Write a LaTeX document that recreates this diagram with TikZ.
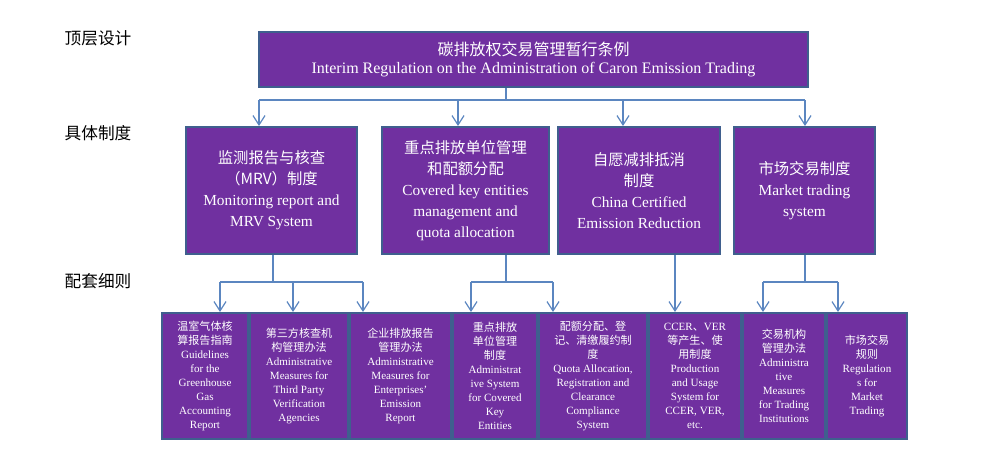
\documentclass[tikz,border=0pt]{standalone}
\usepackage{fontspec}
\setmainfont{Liberation Serif}
\newfontfamily\cjk{Noto Sans CJK SC}
\usetikzlibrary{arrows.meta,positioning}
\definecolor{boxfill}{HTML}{7030A0}
\definecolor{boxline}{HTML}{3F5F8E}
\definecolor{linkcol}{HTML}{5B86C0}
\newcommand{\zh}[1]{{\cjk #1}}

\begin{document}
\begin{tikzpicture}[x=0.75pt,y=-0.75pt]
\tikzstyle{box} = [rectangle, draw=boxline, line width=1.5pt, fill=boxfill, text=white, align=center, inner sep=0pt]
\tikzstyle{topbox} = [box, minimum width=411.75pt, minimum height=41.25pt, font=\fontsize{12}{13.5}\selectfont]
\tikzstyle{midbox} = [box, minimum height=95.25pt, font=\fontsize{11.5}{15.75}\selectfont]
\tikzstyle{subbox} = [box, minimum height=94.5pt, font=\fontsize{8.3}{10.5}\selectfont]
\tikzstyle{tier} = [font=\cjk\fontsize{12.5}{14}\selectfont]
\tikzstyle{link} = [draw=linkcol, line width=0.9pt]
\tikzstyle{arrow} = [link, -{Straight Barb[length=7pt,width=9pt]}]

\useasboundingbox (0,0) rectangle (985,465);

% row labels
\node (lvltop) [tier] at (98,38) {顶层设计};
\node (lvlmid) [tier] at (98,133) {具体制度};
\node (lvlsub) [tier] at (98,281) {配套细则};

% top
\node (top) [topbox] at (533.5,59.5) {\zh{碳排放权交易管理暂行条例}\\Interim Regulation on the Administration of Caron Emission Trading};

% middle row
\node (m1) [midbox, minimum width=128.25pt] at (271.5,190.5) {\zh{监测报告与核查}\\\zh{（MRV）制度}\\Monitoring report and\\MRV System};
\node (m2) [midbox, minimum width=125.25pt, right=17.25pt of m1] {\zh{重点排放单位管理}\\\zh{和配额分配}\\Covered key entities\\management and\\quota allocation};
\node (m3) [midbox, minimum width=121.5pt, right=5.25pt of m2] {\zh{自愿减排抵消}\\\zh{制度}\\China Certified\\Emission Reduction};
\node (m4) [midbox, minimum width=105.75pt, right=9pt of m3] {\zh{市场交易制度}\\Market trading\\system};

% bottom row
\node (b1) [subbox, minimum width=64.5pt, anchor=west] at (161,376) {\zh{温室气体核}\\\zh{算报告指南}\\Guidelines\\for the\\Greenhouse\\Gas\\Accounting\\Report};
\node (b2) [subbox, minimum width=73.5pt, right=0pt of b1] {\zh{第三方核查机}\\\zh{构管理办法}\\Administrative\\Measures for\\Third Party\\Verification\\Agencies};
\node (b3) [subbox, minimum width=75.75pt, right=0pt of b2] {\zh{企业排放报告}\\\zh{管理办法}\\Administrative\\Measures for\\Enterprises’\\Emission\\Report};
\node (b4) [subbox, minimum width=63pt, right=0pt of b3] {\zh{重点排放}\\\zh{单位管理}\\\zh{制度}\\Administrat\\ive System\\for Covered\\Key\\Entities};
\node (b5) [subbox, minimum width=81pt, right=0pt of b4] {\zh{配额分配、登}\\\zh{记、清缴履约制}\\\zh{度}\\Quota Allocation,\\Registration and\\Clearance\\Compliance\\System};
\node (b6) [subbox, minimum width=69pt, right=0pt of b5] {CCER\zh{、}VER\\\zh{等产生、使}\\\zh{用制度}\\Production\\and Usage\\System for\\CCER, VER,\\etc.};
\node (b7) [subbox, minimum width=61.5pt, right=0pt of b6] {\zh{交易机构}\\\zh{管理办法}\\Administra\\tive\\Measures\\for Trading\\Institutions};
\node (b8) [subbox, minimum width=60pt, right=0pt of b7] {\zh{市场交易}\\\zh{规则}\\Regulation\\s for\\Market\\Trading};

% top -> middle
\coordinate (t0) at (506,100);
\coordinate (t1) at (259,100);
\coordinate (t2) at (458,100);
\coordinate (t3) at (623,100);
\coordinate (t4) at (805,100);
\draw [link] (top.south -| t0) -- (t0);
\draw [link] (t1) -- (t4);
\foreach \c/\n in {t1/m1, t2/m2, t3/m3, t4/m4}
  \draw [arrow] (\c) -- (\c |- \n.north);

% middle -> bottom
\coordinate (s1) at (273,282);
\coordinate (s2) at (506,282);
\coordinate (s3) at (675,282);
\coordinate (s4) at (805,282);
\foreach \c/\n in {s1/m1, s2/m2, s4/m4}
  \draw [link] (\n.south -| \c) -- (\c);
\draw [arrow] (m3.south -| s3) -- (s3 |- b6.north);

\coordinate (u1) at (220,282);
\coordinate (u2) at (293,282);
\coordinate (u3) at (363,282);
\coordinate (u4) at (471,282);
\coordinate (u5) at (553,282);
\coordinate (u7) at (763,282);
\coordinate (u8) at (838,282);
\draw [link] (u1) -- (u3);
\draw [link] (u4) -- (u5);
\draw [link] (u7) -- (u8);
\foreach \c/\n in {u1/b1, u2/b2, u3/b3, u4/b4, u5/b5, u7/b7, u8/b8}
  \draw [arrow] (\c) -- (\c |- \n.north);

\end{tikzpicture}
\end{document}
